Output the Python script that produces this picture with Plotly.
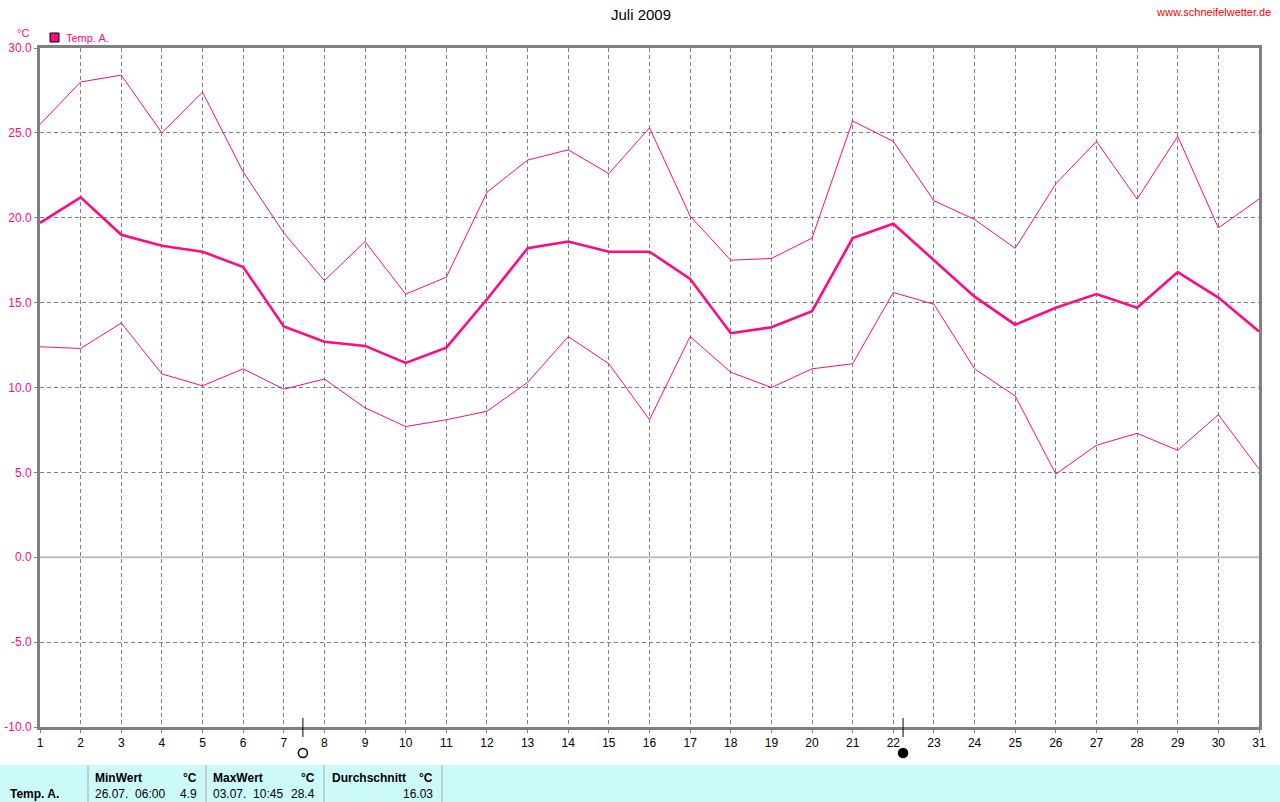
import plotly.graph_objects as go

# ---- data ----
days = list(range(1, 32))
temp_max = [25.5, 28.0, 28.4, 25.0, 27.4, 22.7, 19.1, 16.3, 18.6, 15.5, 16.5, 21.5, 23.4, 24.0, 22.6, 25.3,
            20.1, 17.5, 17.6, 18.8, 25.7, 24.5, 21.0, 19.9, 18.2, 22.0, 24.5, 21.1, 24.8, 19.4, 21.1]
temp_mean = [19.7, 21.2, 19.0, 18.35, 18.0, 17.1, 13.6, 12.7, 12.45, 11.45, 12.35, 15.2, 18.2, 18.6, 18.0, 18.0,
             16.4, 13.2, 13.55, 14.5, 18.8, 19.65, 17.5, 15.35, 13.7, 14.7, 15.5, 14.7, 16.8, 15.3, 13.3]
temp_min = [12.4, 12.3, 13.8, 10.8, 10.1, 11.1, 9.9, 10.5, 8.8, 7.7, 8.1, 8.6, 10.3, 13.0, 11.4, 8.1,
            13.0, 10.9, 10.0, 11.1, 11.4, 15.6, 14.9, 11.1, 9.5, 4.9, 6.6, 7.3, 6.3, 8.4, 5.2]
y_ticks = [-10, -5, 0, 5, 10, 15, 20, 25, 30]
y_tick_labels = ["-10.0", "-5.0", "0.0", "5.0", "10.0", "15.0", "20.0", "25.0", "30.0"]
moon_x = [7.47, 22.24]          # full moon (open), new moon (filled)
moon_filled = [False, True]

title = "Juli 2009"
site = "www.schneifelwetter.de"
series_name = "Temp. A."
stats_headers = ["MinWert", "MaxWert", "Durchschnitt"]
stats_when = ["26.07.  06:00", "03.07.  10:45", ""]
stats_values = ["4.9", "28.4", "16.03"]

PINK = "#FF0A82"
GRAY = "#808080"
FONT = "Liberation Sans"

W, H = 1280, 802
L, R, T, B = 40, 1259, 48, 727


def px(x):
    return (x - L) / (R - L)


def py(y):
    return (B - y) / (B - T)


fig = go.Figure()
for vals, w in [(temp_max, 1), (temp_min, 1), (temp_mean, 2.6)]:
    fig.add_trace(go.Scatter(x=days, y=vals, mode="lines", line=dict(color=PINK, width=w),
                             showlegend=False, hoverinfo="skip"))

shapes = []
# zero line
shapes.append(dict(type="line", xref="paper", yref="y", x0=0, x1=1, y0=0, y1=0,
                   line=dict(color="#BEBEBE", width=2), layer="above"))

# moon phase ticks and symbols
for mx, filled in zip(moon_x, moon_filled):
    shapes.append(dict(type="line", xref="x", yref="paper", x0=mx, x1=mx, y0=py(737), y1=py(718),
                       line=dict(color="black", width=1)))
    shapes.append(dict(type="circle", xref="x", yref="paper", xsizemode="pixel", ysizemode="pixel",
                       xanchor=mx, yanchor=py(753), x0=-4.5, x1=4.5, y0=-4.5, y1=4.5,
                       fillcolor="black" if filled else "white", line=dict(color="black", width=1.5)))

# legend square
shapes.append(dict(type="rect", xref="paper", yref="paper", x0=px(50), x1=px(59), y0=py(42), y1=py(33),
                   fillcolor=PINK, line=dict(color="black", width=1)))

# stats table background
shapes.append(dict(type="rect", xref="paper", yref="paper", x0=px(0), x1=px(1280), y0=py(802), y1=py(765),
                   fillcolor="#CCFAF8", line=dict(width=0), layer="below"))
for sx in [88, 206, 324, 442]:
    shapes.append(dict(type="line", xref="paper", yref="paper", x0=px(sx), x1=px(sx), y0=py(802), y1=py(765),
                       line=dict(color="#A8A8A8", width=1)))

annotations = [
    dict(text=title, x=px(641), y=py(15), xref="paper", yref="paper", showarrow=False,
         font=dict(family=FONT, size=15, color="black"), xanchor="center", yanchor="middle"),
    dict(text=site, x=px(1273), y=py(12), xref="paper", yref="paper", showarrow=False,
         font=dict(family=FONT, size=11, color="#FF0000"), xanchor="right", yanchor="middle"),
    dict(text="°C", x=px(31), y=py(33), xref="paper", yref="paper", showarrow=False,
         font=dict(family=FONT, size=11, color=PINK), xanchor="right", yanchor="middle"),
    dict(text=series_name, x=px(64), y=py(38), xref="paper", yref="paper", showarrow=False,
         font=dict(family=FONT, size=11, color=PINK), xanchor="left", yanchor="middle"),
    dict(text="<b>" + series_name + "</b>", x=px(8), y=py(794), xref="paper", yref="paper", showarrow=False,
         font=dict(family=FONT, size=12, color="black"), xanchor="left", yanchor="middle"),
]
col_left = [93, 211, 330]
col_right = [199, 317, 435]
col_unit = [199, 317, 435]
for i in range(3):
    annotations.append(dict(text="<b>" + stats_headers[i] + "</b>", x=px(col_left[i]), y=py(778),
                            xref="paper", yref="paper", showarrow=False, xanchor="left", yanchor="middle",
                            font=dict(family=FONT, size=12, color="black")))
    annotations.append(dict(text="<b>°C</b>", x=px(col_unit[i]), y=py(778),
                            xref="paper", yref="paper", showarrow=False, xanchor="right", yanchor="middle",
                            font=dict(family=FONT, size=12, color="black")))
    if stats_when[i]:
        annotations.append(dict(text=stats_when[i].replace(" ", "&nbsp;"), x=px(col_left[i]), y=py(794),
                                xref="paper", yref="paper", showarrow=False, xanchor="left", yanchor="middle",
                                font=dict(family=FONT, size=12, color="black")))
    annotations.append(dict(text=stats_values[i], x=px(col_right[i]), y=py(794),
                            xref="paper", yref="paper", showarrow=False, xanchor="right", yanchor="middle",
                            font=dict(family=FONT, size=12, color="black")))

fig.update_layout(
    width=W, height=H,
    margin=dict(l=L, r=W - R, t=T, b=H - B, pad=0, autoexpand=False),
    paper_bgcolor="white", plot_bgcolor="white",
    showlegend=False,
    shapes=shapes, annotations=annotations,
    font=dict(family=FONT, size=11),
)
fig.update_xaxes(range=[1, 31], tickmode="array", tickvals=days, ticktext=[str(d) for d in days],
                 automargin=False,
                 showgrid=True, gridcolor=GRAY, griddash="4px,3px", gridwidth=1,
                 showline=True, linecolor=GRAY, linewidth=3, mirror=True,
                 ticks="outside", ticklen=3, tickcolor=GRAY,
                 tickfont=dict(family=FONT, size=12, color="black"), zeroline=False)
fig.update_yaxes(range=[-10, 30], tickmode="array", tickvals=y_ticks, ticktext=y_tick_labels,
                 automargin=False,
                 showgrid=True, gridcolor=GRAY, griddash="4px,3px", gridwidth=1,
                 showline=True, linecolor=GRAY, linewidth=3, mirror=True,
                 ticks="outside", ticklen=3, tickcolor=GRAY,
                 tickfont=dict(family=FONT, size=12, color=PINK), zeroline=False)

fig.write_html("out.html", config={"displayModeBar": False},
               post_script="document.body.style.margin='0';document.body.style.overflow='hidden';")
